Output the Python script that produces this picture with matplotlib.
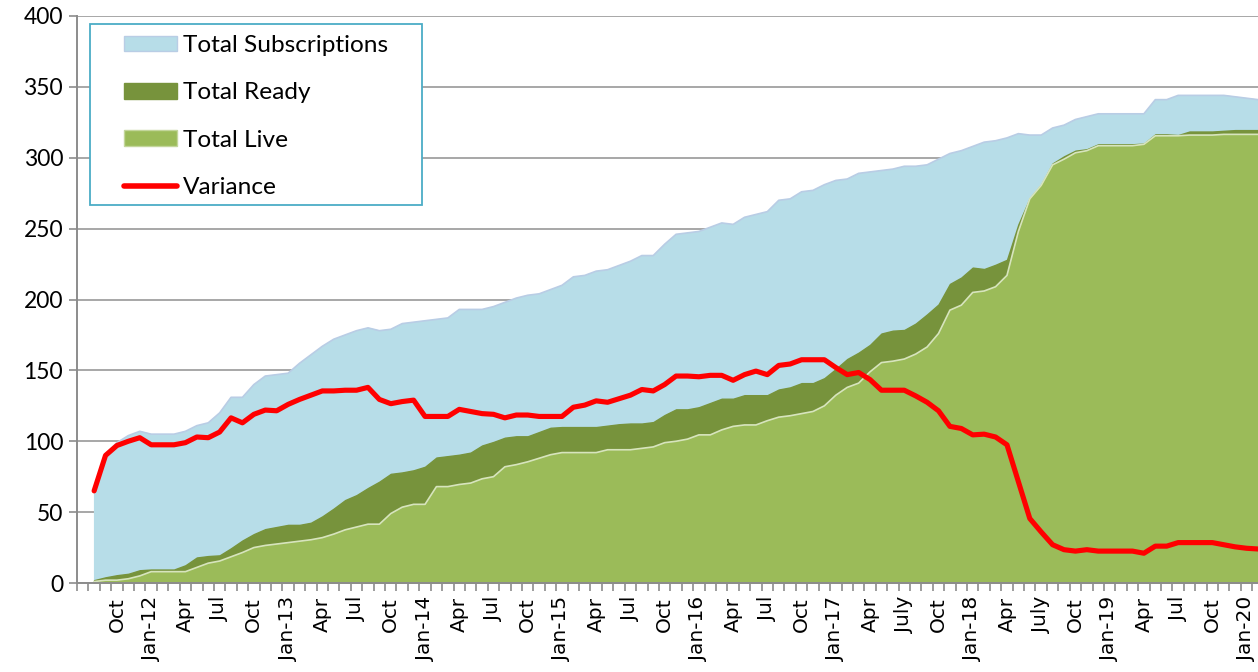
import numpy as np
import matplotlib
matplotlib.use("Agg")
import matplotlib.pyplot as plt
from matplotlib.patches import Patch, Rectangle
from matplotlib.lines import Line2D

# monthly values, Aug 2011 .. Feb 2020
subscriptions = [66, 91, 99, 104, 107, 105, 105, 105, 107, 111, 113, 120, 131, 131, 140, 146, 147,
                 148, 155, 161, 167, 172, 175, 178, 180, 178, 179, 183, 184, 185, 186, 187, 193,
                 193, 193, 195, 198, 201, 203, 204, 207, 210, 216, 217, 220, 221, 224, 227, 231,
                 231, 239, 246, 247, 248, 251, 254, 253, 258, 260, 262, 270, 271, 276, 277, 281,
                 284, 285, 289, 290, 291, 292, 294, 294, 295, 299, 303, 305, 308, 311, 312, 314,
                 317, 316, 316, 321, 323, 327, 329, 331, 331, 331, 331, 331, 341, 341, 344, 344,
                 344, 344, 344, 343, 342, 341]
ready = [2, 4, 5.5, 6.5, 9, 9.5, 9.5, 9.5, 12.5, 18, 19, 19.5, 24.5, 30, 34.5, 38, 39.5,
         41, 41, 42.5, 47, 52.5, 58.5, 62, 67, 71.5, 77, 78, 79.5, 82, 88.5, 89.5, 90.5,
         92, 97, 99.5, 102.5, 103.5, 103.5, 106.5, 109.5, 110, 110, 110, 110, 111, 112, 112.5, 112.5,
         113.5, 118.5, 122.5, 122.5, 124, 127, 130, 130, 132.5, 132.5, 132.5, 136.5, 138, 141, 141, 144.5,
         151, 158, 162.5, 168, 176, 178, 178.5, 183, 189.5, 196.5, 211, 215.5, 222.5, 221.5, 224.5, 228,
         253, 271.5, 281, 296, 301, 305, 306, 309.5, 309.5, 309.5, 309.5, 310, 316.5, 316.5, 316, 318.5,
         318.5, 318.5, 319, 319.5, 319.5, 319.5]
live = [1, 2, 2, 3, 5, 8, 8, 8, 8, 11, 14, 15.5, 18.5, 21.5, 25, 26.5, 27.5,
        28.5, 29.5, 30.5, 32, 34.5, 37.5, 39.5, 41.5, 41.5, 49, 53.5, 55.5, 55.5, 68, 68, 69.5,
        70.5, 73.5, 75, 82, 83.5, 85.5, 88, 90.5, 92, 92, 92, 92, 94, 94, 94, 95,
        96, 99, 100, 101.5, 104.5, 104.5, 108, 110.5, 111.5, 111.5, 114.5, 117, 118, 119.5, 121, 125,
        132.5, 138, 141, 149, 155.5, 156.5, 158, 161.5, 166.5, 176, 192.5, 196, 205, 206, 209, 217,
        248, 271, 280.5, 295, 299, 303.5, 305, 308.5, 308.5, 308.5, 308.5, 309.5, 315.5, 315.5, 315.5, 316,
        316, 316, 316.5, 316.5, 316.5, 316.5]
variance = [65, 90, 97, 100, 102.5, 97.5, 97.5, 97.5, 99, 103, 102.5, 106.5, 116.5, 113, 119, 122, 121.5,
            126, 129.5, 132.5, 135.5, 135.5, 136, 136, 138, 129.5, 126.5, 128, 129, 117.5, 117.5, 117.5, 122.5,
            121, 119.5, 119, 116.5, 118.5, 118.5, 117.5, 117.5, 117.5, 124, 125.5, 128.5, 127.5, 130, 132.5, 136.5,
            135.5, 140, 146, 146, 145.5, 146.5, 146.5, 143, 147, 149.5, 147, 153.5, 154.5, 157.5, 157.5, 157.5,
            152, 147, 148.5, 143.5, 136, 136, 136, 132, 127.5, 121.5, 110.5, 109, 104.5, 105, 103, 97.5,
            71.5, 45.5, 36, 27, 23.5, 22.5, 23.5, 22.5, 22.5, 22.5, 22.5, 21, 26, 26, 28.5, 28.5,
            28.5, 28.5, 27, 25.5, 24.5, 24]

# label every third month, starting Oct 2011 (month index 3)
tick_labels = ["Oct", "Jan-12", "Apr", "Jul", "Oct", "Jan-13", "Apr", "Jul", "Oct", "Jan-14",
               "Apr", "Jul", "Oct", "Jan-15", "Apr", "Jul", "Oct", "Jan-16", "Apr", "Jul",
               "Oct", "Jan-17", "Apr", "July", "Oct", "Jan-18", "Apr", "July", "Oct", "Jan-19",
               "Apr", "Jul", "Oct", "Jan-20"]

x = np.arange(1, len(subscriptions) + 1)
grey = "#8c8c8c"

fig = plt.figure(figsize=(12.58, 6.72), dpi=100)
ax = fig.add_axes([77 / 1258, 89 / 672, 1 - 77 / 1258, 567 / 672])

ax.fill_between(x, subscriptions, color="#b7dde8", zorder=2)
ax.plot(x, subscriptions, color="#b9cde5", lw=1.2, zorder=2)
ax.fill_between(x, ready, color="#77933c", zorder=3)
ax.fill_between(x, live, color="#9bbb59", zorder=4)
ax.plot(x, live, color="#d7e4bd", lw=1.2, zorder=4)
ax.plot(x, variance, color="#ff0000", lw=3.7, solid_capstyle="round", zorder=5)

ax.set_xlim(-0.5, len(subscriptions))
ax.set_ylim(0, 400)
ax.set_yticks(range(0, 401, 50))
ax.yaxis.grid(True, color="#a0a0a0", lw=1.3, zorder=0)
ax.set_axisbelow(True)

ax.set_xticks(np.arange(3, len(subscriptions) + 1, 3))
ax.set_xticklabels(tick_labels, rotation=90, fontsize=14.5, family="DejaVu Sans", va="top")
ax.set_xticks(np.arange(-0.5, len(subscriptions) + 0.5, 1), minor=True)
ax.tick_params(axis="x", which="major", length=0, pad=10)
ax.tick_params(axis="x", which="minor", length=6, width=1.2, color=grey, direction="out")
ax.tick_params(axis="y", length=6, width=1.2, color=grey, pad=4, labelsize=16.5)
for lab in ax.get_yticklabels():
    lab.set_family("Lato")

for s in ["top", "right"]:
    ax.spines[s].set_visible(False)
for s in ["left", "bottom"]:
    ax.spines[s].set_color(grey)
    ax.spines[s].set_linewidth(1.4)
ax.spines["bottom"].set_zorder(6)

handles = [Patch(facecolor="#b7dde8", edgecolor="#b9cde5"),
           Patch(facecolor="#77933c", edgecolor="#77933c"),
           Patch(facecolor="#9bbb59", edgecolor="#c3d69b"),
           Line2D([], [], color="#ff0000", lw=4, solid_capstyle="round")]
names = ["Total Subscriptions", "Total Ready", "Total Live", "Variance"]
leg = fig.legend(handles, names, loc="upper left", bbox_to_anchor=(124 / 1258, 1 - 35 / 672),
                 frameon=False, prop={"family": "Lato", "size": 17.6},
                 handlelength=2.15, handleheight=0.6, handletextpad=0.25,
                 labelspacing=1.08, borderpad=0, borderaxespad=0)
fig.patches.append(Rectangle((90 / 1258, 1 - 205 / 672), 332 / 1258, 181 / 672,
                             transform=fig.transFigure, fill=True, facecolor="white",
                             edgecolor="#4bacc6", lw=1.3, zorder=0.5))
leg.set_zorder(10)

fig.savefig("out.png", dpi=100)
